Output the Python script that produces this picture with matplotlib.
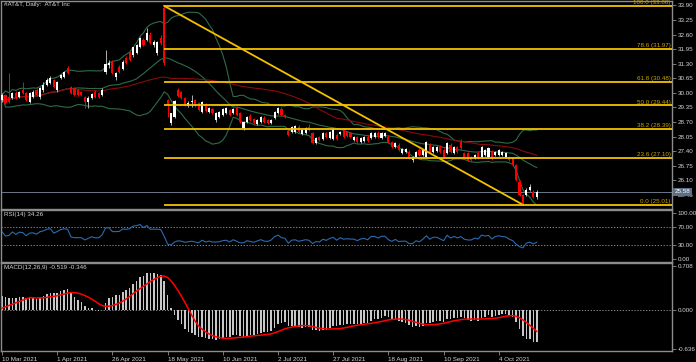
import numpy as np
import pandas as pd
import matplotlib
matplotlib.use("Agg")
import matplotlib.pyplot as plt
from matplotlib import font_manager

# daily candles of the #AT&T CFD, one row per trading day from 10 Mar 2021
opens = [29.69, 29.91, 29.82, 29.77, 30.00, 29.82, 30.13, 30.00, 29.60, 29.82,
         30.13, 29.82, 30.13, 30.35, 30.44, 30.58, 30.13, 30.67, 30.71, 31.11,
         30.26, 30.22, 30.13, 30.04, 29.82, 29.60, 29.77, 30.04, 30.00, 29.91,
         30.95, 31.25, 31.38, 30.71, 31.15, 31.06, 31.56, 31.78, 31.69, 31.78,
         32.05, 32.36, 32.36, 32.60, 32.14, 31.78, 32.45, 33.80, 29.69, 28.66,
         28.93, 30.13, 30.04, 29.77, 29.42, 29.58, 29.69, 29.55, 29.15, 29.46,
         29.15, 29.28, 28.79, 28.93, 29.02, 29.11, 29.24, 29.11, 29.33, 29.11,
         28.44, 28.70, 28.98, 28.84, 28.62, 28.70, 28.88, 28.79, 28.66, 28.88,
         29.11, 29.28, 29.02, 28.30, 28.26, 28.26, 28.48, 28.17, 28.21, 28.48,
         28.21, 27.77, 28.03, 27.95, 28.21, 27.99, 27.95, 28.12, 28.17, 28.35,
         28.26, 28.21, 27.90, 28.03, 27.81, 27.86, 28.03, 27.99, 28.03, 28.21,
         27.99, 28.08, 28.03, 27.81, 27.59, 27.68, 27.32, 27.37, 27.37, 27.01,
         27.14, 27.46, 27.23, 27.14, 27.68, 27.37, 27.41, 27.59, 27.46, 27.32,
         27.68, 27.32, 27.59, 27.81, 27.32, 27.32, 27.14, 27.10, 27.32, 27.14,
         27.23, 27.14, 27.37, 27.23, 27.23, 27.23, 27.14, 27.14, 27.10, 26.79,
         26.03, 25.45, 25.45, 25.67, 25.58, 25.36]
highs = [30.00, 29.95, 30.89, 30.04, 30.08, 30.08, 30.49, 30.04, 30.04, 30.13,
         30.22, 30.26, 30.49, 30.67, 30.75, 30.62, 30.53, 30.84, 30.98, 31.20,
         30.31, 30.26, 30.18, 30.08, 29.86, 29.86, 30.00, 30.13, 30.04, 30.22,
         31.90, 31.45, 31.45, 30.93, 31.25, 31.45, 31.65, 31.85, 32.05, 32.20,
         32.50, 32.45, 32.90, 32.70, 32.36, 32.30, 32.60, 33.88, 29.75, 29.11,
         29.69, 30.22, 30.10, 29.82, 29.64, 29.91, 29.75, 29.60, 29.64, 29.55,
         29.38, 29.33, 29.15, 29.20, 29.33, 29.38, 29.30, 29.33, 29.40, 29.15,
         28.75, 28.98, 29.05, 28.90, 28.84, 28.98, 28.95, 28.84, 28.84, 29.20,
         29.38, 29.35, 29.08, 28.35, 28.52, 28.57, 28.55, 28.40, 28.48, 28.60,
         28.26, 28.03, 28.08, 28.26, 28.26, 28.30, 28.44, 28.20, 28.30, 28.45,
         28.30, 28.26, 28.08, 28.08, 28.03, 28.08, 28.10, 28.26, 28.26, 28.28,
         28.24, 28.26, 28.10, 27.86, 27.81, 27.75, 27.55, 27.55, 27.45, 27.20,
         27.42, 27.52, 27.50, 27.86, 27.75, 27.62, 27.64, 27.66, 27.52, 27.82,
         27.75, 27.62, 27.64, 27.95, 27.37, 27.37, 27.20, 27.28, 27.40, 27.62,
         27.50, 27.59, 27.45, 27.40, 27.50, 27.42, 27.37, 27.20, 27.15, 26.85,
         26.10, 25.50, 25.75, 25.95, 25.65, 25.65]
lows = [29.60, 29.50, 29.55, 29.73, 29.73, 29.77, 29.95, 29.64, 29.55, 29.77,
        29.86, 29.73, 30.04, 30.31, 30.40, 30.22, 30.04, 30.62, 30.67, 30.85,
        29.95, 29.86, 29.86, 29.86, 29.33, 29.33, 29.73, 29.77, 29.77, 29.86,
        30.85, 31.10, 30.85, 30.58, 30.90, 31.00, 31.30, 31.42, 31.60, 31.74,
        32.00, 32.10, 32.30, 32.20, 32.05, 31.70, 32.14, 31.25, 28.93, 28.55,
        28.88, 29.82, 29.73, 29.42, 29.38, 29.37, 29.38, 29.20, 29.10, 29.15,
        29.10, 29.05, 28.70, 28.88, 28.98, 29.05, 28.98, 29.05, 28.98, 28.66,
        28.35, 28.66, 28.75, 28.62, 28.57, 28.66, 28.66, 28.60, 28.62, 28.84,
        29.05, 28.98, 28.90, 28.08, 28.20, 28.20, 28.20, 28.12, 28.17, 28.30,
        27.70, 27.72, 27.85, 27.90, 27.99, 27.95, 27.90, 27.90, 28.12, 27.99,
        28.05, 27.99, 27.85, 27.77, 27.75, 27.80, 27.82, 27.95, 27.99, 27.99,
        27.95, 28.03, 27.77, 27.55, 27.54, 27.42, 27.28, 27.32, 27.05, 26.92,
        27.10, 27.20, 27.18, 27.10, 27.32, 27.32, 27.37, 27.32, 27.10, 27.28,
        27.32, 27.28, 27.32, 27.50, 27.10, 26.96, 26.96, 27.05, 27.05, 27.10,
        27.18, 27.10, 27.01, 27.18, 27.18, 27.18, 27.10, 26.96, 26.75, 26.08,
        25.40, 25.01, 25.40, 25.62, 25.31, 25.27]
closes = [29.91, 29.55, 29.60, 30.00, 29.77, 30.04, 30.00, 29.69, 30.00, 30.04,
          29.91, 30.22, 30.35, 30.58, 30.67, 30.26, 30.49, 30.80, 30.93, 30.89,
          30.00, 29.91, 29.91, 29.91, 29.60, 29.77, 29.95, 29.82, 29.82, 30.13,
          31.30, 31.34, 30.89, 30.89, 30.93, 31.38, 31.34, 31.47, 32.05, 32.14,
          32.45, 32.14, 32.68, 32.23, 32.28, 32.27, 32.23, 31.34, 29.46, 29.11,
          29.64, 29.86, 29.77, 29.46, 29.55, 29.62, 29.42, 29.24, 29.60, 29.20,
          29.33, 29.11, 29.11, 29.15, 29.28, 29.33, 29.02, 29.28, 29.02, 28.70,
          28.70, 28.93, 28.79, 28.66, 28.79, 28.93, 28.70, 28.66, 28.79, 29.15,
          29.33, 29.02, 28.93, 28.12, 28.48, 28.52, 28.26, 28.35, 28.44, 28.35,
          27.77, 27.99, 27.90, 28.21, 28.03, 28.26, 28.39, 27.95, 28.26, 28.03,
          28.08, 28.03, 28.03, 27.81, 27.99, 28.03, 27.86, 28.21, 28.21, 28.03,
          28.21, 28.21, 27.81, 27.59, 27.77, 27.46, 27.50, 27.50, 27.14, 27.14,
          27.37, 27.23, 27.46, 27.81, 27.37, 27.59, 27.59, 27.37, 27.14, 27.77,
          27.37, 27.59, 27.37, 27.54, 27.14, 27.01, 27.01, 27.23, 27.10, 27.59,
          27.46, 27.54, 27.05, 27.37, 27.46, 27.37, 27.32, 27.01, 26.79, 26.12,
          25.45, 25.09, 25.67, 25.80, 25.36, 25.58]

date_labels = ["10 Mar 2021", "1 Apr 2021", "26 Apr 2021", "18 May 2021", "10 Jun 2021",
               "2 Jul 2021", "27 Jul 2021", "18 Aug 2021", "10 Sep 2021", "4 Oct 2021"]
bars_per_label = 16

fib_levels = ["0.0", "23.6", "38.2", "50.0", "61.8", "78.6", "100.0"]
fib_prices = [25.01, 27.10, 28.39, 29.44, 30.48, 31.97, 33.88]
swing_high_bar = 47
swing_low_bar = 151

price_ticks = [33.90, 33.25, 32.60, 31.95, 31.30, 30.65, 30.00, 29.35, 28.70,
               28.05, 27.40, 26.75, 26.10, 25.45]
rsi_ticks = [100, 70, 30, 0]
macd_ticks = [0.708, 0.0, -0.636]
last_price = 25.58

# indicator state at the left edge of the chart (history before 10 Mar)
ema12_start, ema26_start = 29.62, 29.40
rsi_gain_start, rsi_loss_start = 0.10, 0.07

title_text = "#AT&T, Daily:  AT&T Inc"
rsi_text = "RSI(14) 34.26"
macd_text = "MACD(12,26,9) -0.519 -0.346"

W, H = 696, 362
BG = "black"
FRAME = "#8c8c8c"
TXT = "#d4d4d4"
FIB = "#f2c200"

names = {f.name for f in font_manager.fontManager.ttflist}
if "Liberation Sans Narrow" in names:
    plt.rcParams["font.family"] = ["Liberation Sans Narrow", "DejaVu Sans"]
    FS = 5.2
else:
    plt.rcParams["font.family"] = ["Liberation Sans", "DejaVu Sans"]
    FS = 4.5


def frame(top, bottom, left=1, right=672):
    return [left / W, 1 - bottom / H, (right - left) / W, (bottom - top) / H]


def style(ax):
    ax.set_facecolor(BG)
    for s in ax.spines.values():
        s.set_color(FRAME)
        s.set_linewidth(1.0)
    ax.yaxis.tick_right()
    ax.tick_params(axis="y", colors=FRAME, labelcolor=TXT, labelsize=FS,
                   length=3, width=0.6, pad=1.2)
    ax.tick_params(axis="x", bottom=False, labelbottom=False)
    ax.set_xlim(-0.3, 194.2)


def ema(values, span, start):
    a = 2.0 / (span + 1)
    out, e = [], start
    for v in values:
        e = e + a * (v - e)
        out.append(e)
    return np.array(out)


def wilder(values, n, start):
    out, e = [], start
    for v in values:
        e = e + (v - e) / n
        out.append(e)
    return np.array(out)


df = pd.DataFrame({"open": opens, "high": highs, "low": lows, "close": closes})
x = np.arange(len(df))
close = df["close"]

# indicators
mid = close.rolling(20, min_periods=1).mean()
sd = close.rolling(20, min_periods=1).std(ddof=0).fillna(0)
ma50 = close.rolling(50, min_periods=1).mean()

delta = close.diff().fillna(0).values
gain = wilder(np.clip(delta, 0, None), 14, rsi_gain_start)
loss = wilder(np.clip(-delta, 0, None), 14, rsi_loss_start)
rsi = 100 - 100 / (1 + gain / loss)

macd = ema(closes, 12, ema12_start) - ema(closes, 26, ema26_start)
signal = pd.Series(np.r_[np.zeros(8), macd]).rolling(9).mean().values[8:]

fig = plt.figure(figsize=(W / 100, H / 100), dpi=100, facecolor=BG)
ax = fig.add_axes(frame(1, 209))
ax_rsi = fig.add_axes(frame(210, 262))
ax_macd = fig.add_axes(frame(263, 351))
for a in (ax, ax_rsi, ax_macd):
    style(a)

# price panel
ax.set_ylim(24.82, 34.10)
ax.set_yticks(price_ticks)
ax.set_yticklabels([f"{t:.2f}" for t in price_ticks])

band = "#2e6b48"
ax.plot(x, mid + 2 * sd, color=band, lw=0.8)
ax.plot(x, mid, color=band, lw=0.8)
ax.plot(x, mid - 2 * sd, color=band, lw=0.8)
ax.plot(x, ma50, color="#8b0a0a", lw=0.8)

up = df["close"] >= df["open"]
for mask, body, wick in ((up, "#ffffff", "#b0b0b0"), (~up, "#ff0000", "#ff0000")):
    d = df[mask]
    ax.vlines(d.index, d["low"], d["high"], color=wick, lw=0.7, zorder=3)
    ax.bar(d.index, (d["close"] - d["open"]).abs().clip(lower=0.02),
           bottom=np.minimum(d["open"], d["close"]), width=0.6,
           color=body, edgecolor=body, linewidth=0, zorder=4)

ax.axhline(last_price, color="#6c7888", lw=0.7, zorder=2)
ax.text(1.004, last_price, f"{last_price:.2f}", transform=ax.get_yaxis_transform(),
        fontsize=FS, color="white", va="center", ha="left",
        bbox=dict(boxstyle="square,pad=0.2", fc="#5c6f87", ec="none"), zorder=6,
        clip_on=False)

for lvl, p in zip(fib_levels, fib_prices):
    ax.plot([swing_high_bar, 194.2], [p, p], color=FIB, lw=1.3, zorder=5,
            solid_capstyle="butt")
    ax.text(193.8, p + 0.04, f"{lvl} ({p:.2f})", color="#c9a400", fontsize=FS,
            ha="right", va="bottom", zorder=6)
ax.plot([swing_high_bar, swing_low_bar], [fib_prices[-1], fib_prices[0]],
        color=FIB, lw=1.3, zorder=5)

ax.text(0.004, 0.993, title_text, transform=ax.transAxes,
        color=TXT, fontsize=FS, ha="left", va="top")

# RSI panel
ax_rsi.set_ylim(-6.5, 106.5)
ax_rsi.set_yticks(rsi_ticks)
ax_rsi.set_yticklabels([f"{t:.2f}" for t in rsi_ticks])
for lvl in (70, 30):
    ax_rsi.axhline(lvl, color="#a0a0a0", lw=0.6, ls=(0, (1.5, 2)))
ax_rsi.plot(x, rsi, color="#2a6bb0", lw=0.8)
ax_rsi.text(0.004, 0.96, rsi_text, transform=ax_rsi.transAxes,
            color=TXT, fontsize=FS, ha="left", va="top")

# MACD panel
ax_macd.set_ylim(-0.668, 0.757)
ax_macd.set_yticks(macd_ticks)
ax_macd.set_yticklabels([f"{t:.3f}" for t in macd_ticks])
ax_macd.axhline(0, color="#a0a0a0", lw=0.6, ls=(0, (1.5, 2)), zorder=1)
ax_macd.bar(x, macd, width=0.45, color="#c8c8c8", zorder=2)
ax_macd.plot(x, signal, color="#ff0000", lw=1.1, zorder=3)
ax_macd.text(0.004, 0.975, macd_text, transform=ax_macd.transAxes,
             color=TXT, fontsize=FS, ha="left", va="top")

# date axis
tick_bars = np.arange(len(date_labels)) * bars_per_label
ax_macd.tick_params(axis="x", bottom=True, labelbottom=True, colors=FRAME,
                    labelcolor=TXT, labelsize=FS, length=3, width=0.6, pad=1)
ax_macd.set_xticks(tick_bars)
ax_macd.set_xticklabels(date_labels, ha="left")

fig.savefig("out.png", dpi=100, facecolor=BG)
